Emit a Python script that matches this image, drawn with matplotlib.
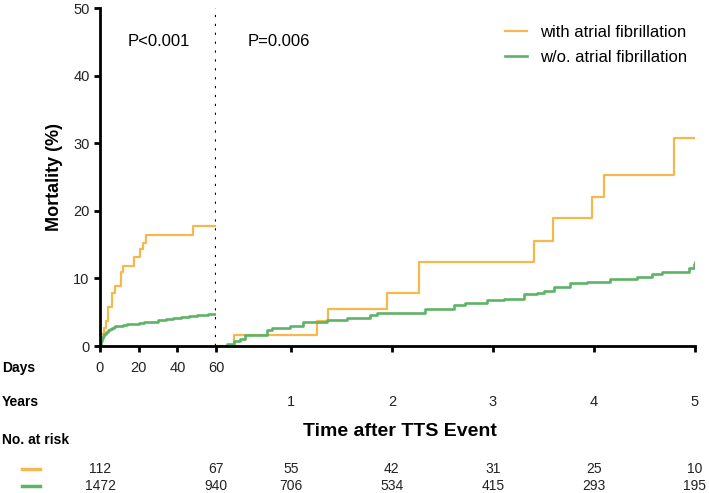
import matplotlib.pyplot as plt
from matplotlib.lines import Line2D
from matplotlib.transforms import blended_transform_factory

plt.rcParams['font.family'] = ['Liberation Sans', 'DejaVu Sans']

orange = "#F7B84B"
green = "#5DB466"

# first 60 days (x in days)
af_days = [0, 0.3, 2.1, 3.1, 4.3, 6.3, 7.5, 10.8, 11.8, 17.7, 20.5, 22.3, 23.7, 48.3, 60]
af_days_mort = [0, 1.8, 2.6, 3.7, 5.8, 7.8, 8.9, 10.9, 11.9, 13.2, 14.3, 15.3, 16.4, 17.7, 17.7]
noaf_days = [0, 0.5, 1, 1.5, 2, 3, 4, 5, 6, 7, 8, 10, 12, 14, 17, 20, 23, 26, 30, 34,
             38, 42, 46, 50, 56, 60]
noaf_days_mort = [0, 0.8, 1.2, 1.5, 1.8, 2.1, 2.3, 2.5, 2.7, 2.8, 2.9, 3.0, 3.1, 3.2, 3.3,
                  3.4, 3.5, 3.6, 3.8, 4.0, 4.2, 4.3, 4.5, 4.6, 4.8, 4.8]

# landmark period (x in years)
af_years = [0.26, 0.442, 1.257, 1.373, 1.950, 2.264, 3.409, 3.594, 3.983, 4.096, 4.789, 5.0]
af_years_mort = [0, 1.6, 3.7, 5.5, 7.8, 12.4, 15.6, 18.9, 22.1, 25.3, 30.7, 30.7]
noaf_years = [0.26, 0.366, 0.442, 0.498, 0.548, 0.762, 0.812, 0.993, 1.125, 1.356, 1.554,
              1.785, 1.851, 2.330, 2.611, 2.726, 2.941, 3.106, 3.304, 3.436, 3.502, 3.601,
              3.766, 3.931, 4.162, 4.426, 4.574, 4.673, 4.937, 4.987, 5.0]
noaf_years_mort = [0, 0.3, 0.7, 1.1, 1.6, 2.3, 2.7, 2.9, 3.6, 3.8, 4.1, 4.6, 4.9, 5.4, 6.0,
                   6.4, 6.8, 7.0, 7.7, 7.9, 8.2, 8.7, 9.3, 9.5, 9.9, 10.2, 10.6, 11.0, 11.5,
                   12.1, 12.4]

# numbers at risk
risk_days = [0, 60]
risk_years = [1, 2, 3, 4, 5]
risk_af = [112, 67, 55, 42, 31, 25, 10]
risk_noaf = [1472, 940, 706, 534, 415, 293, 195]

fig = plt.figure(figsize=(7.09, 4.93), dpi=100)
ax1 = fig.add_axes([100 / 709, 1 - 346 / 493, 116 / 709, 338 / 493])
ax2 = fig.add_axes([216 / 709, 1 - 346 / 493, 479 / 709, 338 / 493])

ax1.step(af_days, af_days_mort, where="post", color=orange, lw=1.6)
ax1.step(noaf_days, noaf_days_mort, where="post", color=green, lw=1.9)
ax2.step(af_years, af_years_mort, where="post", color=orange, lw=1.6)
ax2.step(noaf_years, noaf_years_mort, where="post", color=green, lw=1.9)

# landmark divider at day 60
ax1.axvline(60, color="black", ls=(0, (1, 3)), lw=1.6, clip_on=False)

for ax in (ax1, ax2):
    ax.set_ylim(0, 50)
    ax.spines["top"].set_visible(False)
    ax.spines["right"].set_visible(False)
    ax.spines["bottom"].set_linewidth(2)
    ax.spines["left"].set_linewidth(2)
    ax.tick_params(width=2, length=4, labelsize=10.5, colors="black", labelcolor="#222222")

ax1.set_xlim(0, 60)
ax1.set_xticks([0, 20, 40, 60])
ax1.tick_params(axis="x", pad=7)
ax1.set_yticks([0, 10, 20, 30, 40, 50])
ax1.set_ylabel("Mortality (%)", fontsize=13, fontweight="bold", labelpad=7)

ax2.set_xlim(0.26, 5.0)
ax2.set_xticks(risk_years)
ax2.tick_params(axis="x", pad=31)
ax2.spines["left"].set_visible(False)
ax2.set_yticks([])

ax1.text(14.5, 45, "P<0.001", fontsize=12, va="center")
ax2.text(0.57, 45, "P=0.006", fontsize=12, va="center")

handles = [Line2D([], [], color=orange, lw=1.6), Line2D([], [], color=green, lw=1.9)]
fig.legend(handles, ["with atrial fibrillation", "w/o. atrial fibrillation"],
           loc="upper left", bbox_to_anchor=(505 / 709, 1 - 25 / 493), frameon=False,
           fontsize=12, handlelength=1.3, handletextpad=0.8, labelspacing=0.6,
           borderpad=0, borderaxespad=0)

fig.text(2 / 709, 1 - 368 / 493, "Days", fontsize=10, fontweight="bold", va="center")
fig.text(2 / 709, 1 - 402 / 493, "Years", fontsize=10, fontweight="bold", va="center")
fig.text(2 / 709, 1 - 440 / 493, "No. at risk", fontsize=10, fontweight="bold", va="center")
fig.text(400 / 709, 1 - 432 / 493, "Time after TTS Event", fontsize=14,
         fontweight="bold", ha="center", va="center")

tr1 = blended_transform_factory(ax1.transData, fig.transFigure)
tr2 = blended_transform_factory(ax2.transData, fig.transFigure)
row_y = [1 - 469 / 493, 1 - 486 / 493]
for row, vals in enumerate([risk_af, risk_noaf]):
    for i, v in enumerate(vals):
        if i < len(risk_days):
            fig.text(risk_days[i], row_y[row], str(v), transform=tr1, ha="center",
                     va="center", fontsize=10, color="#222222")
        else:
            fig.text(risk_years[i - len(risk_days)], row_y[row], str(v), transform=tr2,
                     ha="center", va="center", fontsize=10, color="#222222")

for color, y in [(orange, row_y[0]), (green, row_y[1])]:
    fig.add_artist(Line2D([22 / 709, 40 / 709], [y, y], color=color, lw=2.5,
                          transform=fig.transFigure))

fig.savefig("out.png", dpi=100)
